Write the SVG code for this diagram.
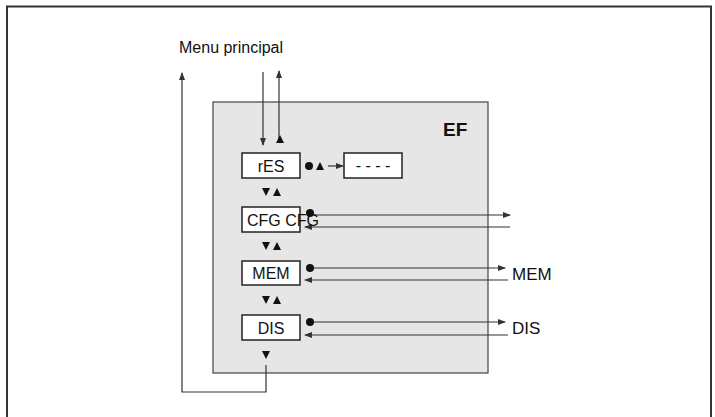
<svg xmlns="http://www.w3.org/2000/svg" width="715" height="417" viewBox="0 0 715 417">
<style>
text{font-family:"Liberation Sans",Arial,sans-serif;fill:#111}
.l{stroke:#333;stroke-width:1.2;fill:none}
.b{fill:#fff;stroke:#222;stroke-width:1.5}
.t{font-size:16px}
</style>
<defs>
<marker id="a" markerWidth="8" markerHeight="6" refX="7" refY="3" orient="auto" markerUnits="userSpaceOnUse"><path d="M0,0L8,3L0,6z" fill="#333"/></marker>
</defs>
<rect width="715" height="417" fill="#fff"/>
<path d="M7,420V6.5H711V420" fill="none" stroke="#333" stroke-width="2"/>
<rect x="213" y="102" width="275" height="271" fill="#e6e6e6" stroke="#444" stroke-width="1.2"/>
<text x="179" y="53" font-size="16">Menu principal</text>
<text x="443" y="136" font-size="19" font-weight="bold">EF</text>
<g id="connectors">
<path class="l" d="M263,72V145" marker-end="url(#a)"/>
<path class="l" d="M279,140V71" marker-end="url(#a)"/>
<path class="l" d="M266,365V392H182V73" marker-end="url(#a)"/>
<path class="l" d="M328,166H343" marker-end="url(#a)"/>
<path class="l" d="M312,215H510" marker-end="url(#a)"/>
<path class="l" d="M510,227H305" marker-end="url(#a)"/>
<path class="l" d="M312,268H505" marker-end="url(#a)"/>
<path class="l" d="M508,280H305" marker-end="url(#a)"/>
<path class="l" d="M312,322H505" marker-end="url(#a)"/>
<path class="l" d="M508,335H305" marker-end="url(#a)"/>
</g>
<g fill="#111">
<path d="M276,143l4,-8l4,8z"/>
<path d="M262,188h8l-4,8z M273,196l4,-8l4,8z"/>
<path d="M262,242h8l-4,8z M273,250l4,-8l4,8z"/>
<path d="M262,296h8l-4,8z M273,304l4,-8l4,8z"/>
<path d="M262,351h8l-4,8z"/>
<path d="M316,170l4,-8l4,8z"/>
</g>
<g id="rES"><rect class="b" x="242" y="153" width="58" height="25"/><text x="271" y="172" class="t" text-anchor="middle">rES</text><circle cx="309" cy="166" r="4" fill="#111"/></g>
<g id="dash"><rect class="b" x="344" y="153" width="58" height="25"/><text x="373" y="171" class="t" text-anchor="middle">- - - -</text></g>
<g id="CFG"><rect class="b" x="242" y="207" width="58" height="25"/><text x="247" y="226" class="t">CFG CFG</text><circle cx="310" cy="213" r="4" fill="#111"/></g>
<g id="MEM"><rect class="b" x="242" y="261" width="58" height="24"/><text x="271" y="279" class="t" text-anchor="middle">MEM</text><circle cx="310" cy="268" r="4" fill="#111"/><text x="512" y="280" font-size="17">MEM</text></g>
<g id="DIS"><rect class="b" x="242" y="315" width="58" height="25"/><text x="271" y="334" class="t" text-anchor="middle">DIS</text><circle cx="310" cy="322" r="4" fill="#111"/><text x="512" y="334" font-size="17">DIS</text></g>
</svg>
